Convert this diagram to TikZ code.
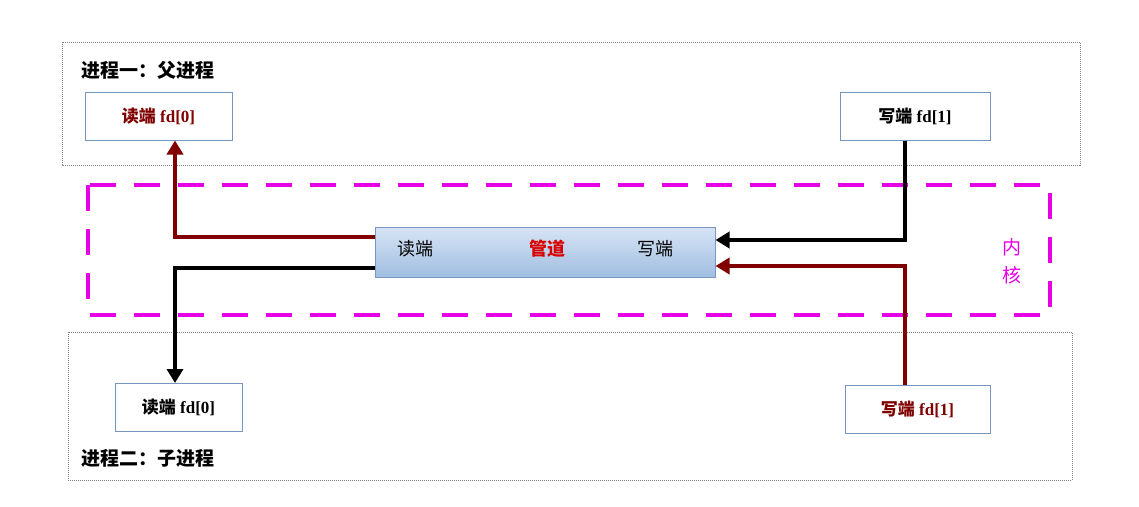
\documentclass[tikz,border=0pt]{standalone}
\usepackage{fontspec}
\setmainfont{Liberation Serif}
\newfontfamily\cjk{Noto Sans CJK SC}
\usetikzlibrary{arrows.meta}
\definecolor{dred}{RGB}{128,0,0}
\definecolor{mag}{RGB}{230,0,230}
\definecolor{bframe}{RGB}{120,150,190}
\definecolor{ptop}{RGB}{215,228,245}
\definecolor{pbot}{RGB}{160,190,225}
\tikzset{
 proc/.style={draw=gray,densely dotted,line width=1pt},
 fdbox/.style={draw=bframe,line width=1pt,fill=white,minimum height=48pt,font=\fontsize{17}{19}\selectfont\bfseries},
 conn/.style={line width=4pt,-{Triangle[length=14pt,width=16pt]}},
}
\begin{document}
\begin{tikzpicture}[x=1pt,y=-1pt]
\useasboundingbox (0,0) rectangle (1139,506);
\draw[proc] (62,42) rectangle (1080,165);
\draw[proc] (68,332) rectangle (1072,480);
\node[anchor=west,font=\cjk\bfseries\fontsize{19}{21}\selectfont] (t1) at (78,70) {进程一：父进程};
\node[anchor=west,font=\cjk\bfseries\fontsize{19}{21}\selectfont] (t2) at (78,458) {进程二：子进程};
\draw[mag,line width=4pt,dash pattern=on 26pt off 18pt] (88,185) rectangle (1050,315);
\node[mag,font=\cjk\fontsize{19}{28}\selectfont,align=center] (k) at (1012,261) {内\\核};
\node[fdbox,minimum width=147pt,text=dred] (r1) at (158.5,116) {{\cjk 读端} fd[0]};
\node[fdbox,minimum width=150pt] (w1) at (915,116) {{\cjk 写端} fd[1]};
\node[fdbox,minimum width=127pt] (r2) at (178.5,407.5) {{\cjk 读端} fd[0]};
\node[fdbox,minimum width=145pt,text=dred] (w2) at (917.5,409) {{\cjk 写端} fd[1]};
\node[draw=bframe,line width=1pt,minimum width=340pt,minimum height=50pt,top color=ptop,bottom color=pbot] (p) at (545,252) {};
\node[font=\cjk\fontsize{18}{20}\selectfont] (pr) at (415,249) {读端};
\node[font=\cjk\bfseries\fontsize{18}{20}\selectfont,text=red!85!black] (pm) at (547,249) {管道};
\node[font=\cjk\fontsize{18}{20}\selectfont] (pw) at (655,249) {写端};
\draw[conn,dred] (p.west|-0,237) -| (r1.south-|175,0);
\draw[conn,black] (p.west|-0,268) -| (r2.north-|175,0);
\draw[conn,black] (w1.south-|905,0) |- (p.east|-0,240);
\draw[conn,dred] (w2.north-|905,0) |- (p.east|-0,266);
\end{tikzpicture}
\end{document}
